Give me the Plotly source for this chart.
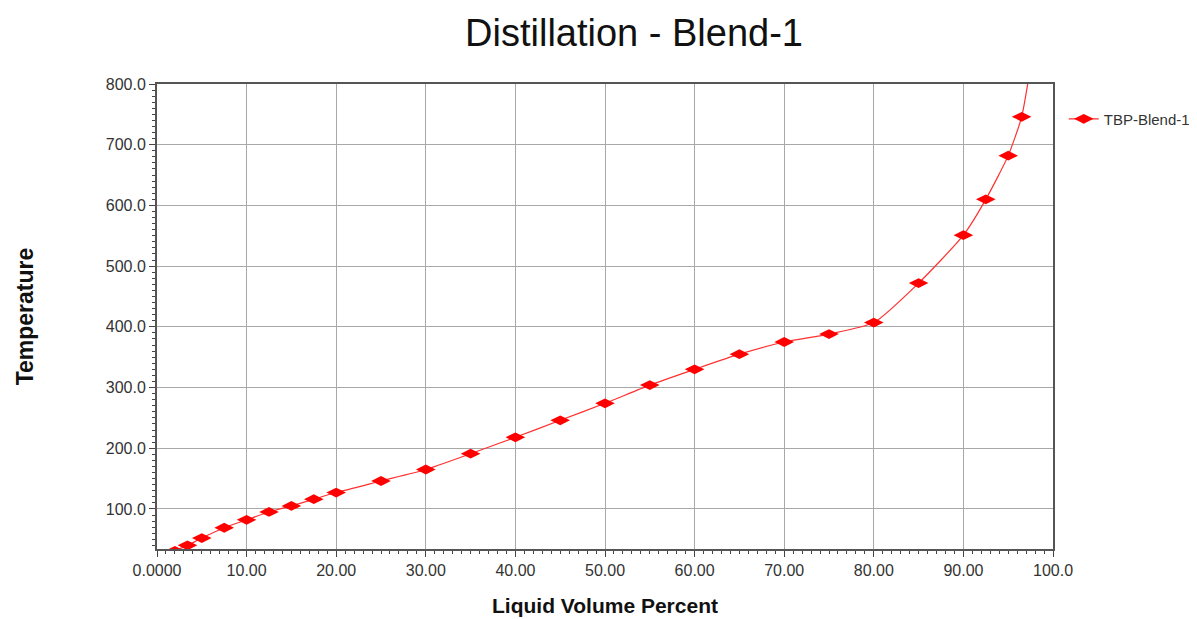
import plotly.graph_objects as go

# Data
liquid_volume_pct = [2.0, 3.4, 5.0, 7.5, 10.0, 12.5, 15.0, 17.5, 20.0, 25.0, 30.0, 35.0,
                     40.0, 45.0, 50.0, 55.0, 60.0, 65.0, 70.0, 75.0, 80.0, 85.0, 90.0,
                     92.5, 95.0, 96.5, 97.5]
temperature = [31, 40, 52, 69, 82, 95, 105, 116, 127, 146, 165, 191,
               218, 246, 274, 304, 330, 355, 375, 388, 407, 472, 551,
               610, 682, 746, 830]
series_name = "TBP-Blend-1"

x_tickvals = [0, 10, 20, 30, 40, 50, 60, 70, 80, 90, 100]
x_ticktext = ["0.0000", "10.00", "20.00", "30.00", "40.00", "50.00",
              "60.00", "70.00", "80.00", "90.00", "100.0"]
y_tickvals = [100, 200, 300, 400, 500, 600, 700, 800]
y_ticktext = ["100.0", "200.0", "300.0", "400.0", "500.0", "600.0", "700.0", "800.0"]

FONT = "Liberation Sans, Arial, sans-serif"

fig = go.Figure()
fig.add_trace(go.Scatter(
    x=liquid_volume_pct, y=temperature, name=series_name,
    mode="lines+markers",
    line=dict(color="#ff3030", width=1.2, shape="spline", smoothing=0.6),
    marker=dict(symbol="diamond-wide", size=14, color="#ff0000"),
))

axis_common = dict(
    showline=True, linecolor="#555555", linewidth=2, mirror=True,
    showgrid=True, gridcolor="#a8a8a8", gridwidth=1,
    ticks="outside", ticklen=6, tickcolor="#444444", tickwidth=1,
    tickfont=dict(family=FONT, size=16, color="#333333"),
    zeroline=False,
)

fig.update_xaxes(
    range=[0, 100], tickvals=x_tickvals, ticktext=x_ticktext,
    minor=dict(dtick=1, ticks="outside", ticklen=3, tickcolor="#444444", showgrid=False),
    title=dict(text="<b>Liquid Volume Percent</b>", standoff=20,
               font=dict(family=FONT, size=21, color="#111111")),
    **axis_common,
)
fig.update_yaxes(
    range=[34, 800], tickvals=y_tickvals, ticktext=y_ticktext,
    minor=dict(dtick=10, ticks="outside", ticklen=3, tickcolor="#444444", showgrid=False),
    title=dict(text="<b>Temperature</b>", standoff=66,
               font=dict(family=FONT, size=23, color="#111111")),
    **axis_common,
)

fig.update_layout(
    width=1210, height=619,
    margin=dict(l=149, r=165, t=76, b=78, autoexpand=False),
    paper_bgcolor="white", plot_bgcolor="white",
    title=dict(text="Distillation - Blend-1", x=0.5174, xanchor="center", y=0.96, yanchor="middle",
               font=dict(family=FONT, size=38, color="#111111")),
    showlegend=True,
    legend=dict(x=1.012, xanchor="left", y=0.96, yanchor="top",
                font=dict(family=FONT, size=15, color="#333333"),
                bgcolor="rgba(0,0,0,0)"),
)

fig.write_html("out.html")
